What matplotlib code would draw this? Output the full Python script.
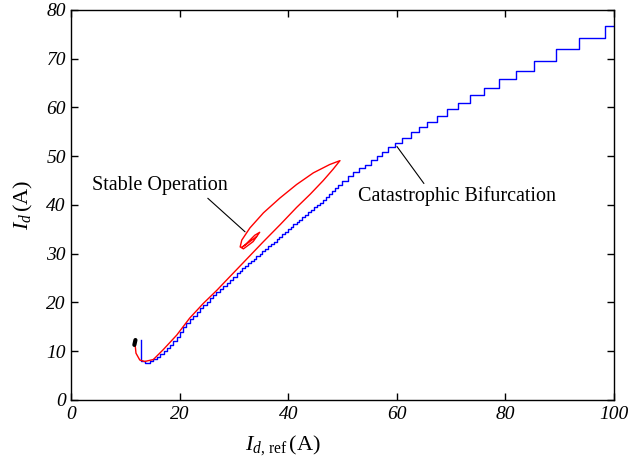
import matplotlib
matplotlib.use("Agg")
import matplotlib.pyplot as plt

plt.rcParams['mathtext.fontset'] = 'custom'
plt.rcParams['mathtext.rm'] = 'Liberation Serif'
plt.rcParams['mathtext.it'] = 'Liberation Serif:italic'
plt.rcParams['font.family'] = ['Liberation Serif', 'DejaVu Serif']

# Blue trajectory (catastrophic bifurcation), staircase
blue_x = [12.8, 12.8,
          13.5, 14.0, 14.5, 15.1, 15.7, 16.3, 17.0, 17.6, 18.2, 18.8,
          19.4, 20.0, 20.6, 21.2, 21.8, 22.4, 23.1, 23.7, 24.3, 24.9,
          25.5, 26.1, 26.7, 27.3, 28.0, 28.6, 29.2, 29.8, 30.5, 31.0,
          31.5, 32.0, 32.6, 33.1, 33.6, 34.1, 34.7, 35.2, 35.7, 36.2,
          36.8, 37.3, 37.8, 38.3, 38.8, 39.3, 39.9, 40.4, 40.9, 41.5,
          42.0, 42.5, 43.1, 43.6, 44.2, 44.7, 45.3, 45.8, 46.4, 46.9,
          47.5, 48.0, 48.6, 49.2, 49.8,
          50.9, 51.9, 53.0, 54.1, 55.2, 56.3, 57.3, 58.4, 59.6, 61.0,
          62.5, 64.0, 65.6, 67.3, 69.2, 71.3, 73.5, 76.1, 78.8, 81.9,
          85.3, 89.3, 93.6, 98.3, 100.0]
blue_y = [12.4, 7.9,
          7.5, 7.6, 7.9, 8.4, 8.9, 9.4, 10.0, 10.6, 11.3, 12.1,
          13.0, 14.0, 15.0, 15.8, 16.6, 17.3, 18.1, 18.8, 19.5, 20.2,
          20.9, 21.5, 22.1, 22.8, 23.4, 24.0, 24.7, 25.3, 26.0, 26.5,
          27.0, 27.5, 28.0, 28.5, 29.0, 29.5, 30.0, 30.5, 31.0, 31.5,
          32.0, 32.5, 33.0, 33.5, 34.0, 34.5, 35.0, 35.5, 36.0, 36.5,
          37.0, 37.5, 38.0, 38.5, 39.0, 39.5, 40.0, 40.5, 41.0, 41.6,
          42.2, 42.8, 43.4, 44.1, 44.9,
          45.9, 46.8, 47.6, 48.3, 49.2, 50.1, 50.9, 51.8, 52.8, 53.8,
          54.9, 55.9, 57.1, 58.3, 59.7, 61.0, 62.5, 64.1, 65.8, 67.5,
          69.6, 71.9, 74.2, 76.7, 76.7]

# Red trajectory (stable operation)
red_x = [11.7, 11.9, 12.6, 13.5, 15.1, 16.9, 19.4, 21.8, 24.3, 26.8, 29.2, 31.7,
         35.4, 38.5, 41.5, 44.0, 46.4, 48.2, 49.5,
         47.6, 44.6, 41.5, 38.4, 35.4, 32.9, 31.4, 31.1, 31.7, 33.5, 34.7,
         33.8, 32.0, 31.4, 32.9, 34.1]
red_y = [11.8, 9.6, 8.2, 7.9, 8.3, 10.3, 13.3, 16.8, 19.8, 22.5, 25.3, 28.2,
         32.5, 36.0, 39.5, 42.2, 45.0, 47.3, 49.1,
         48.3, 46.6, 44.2, 41.4, 38.4, 35.3, 32.8, 31.4, 31.0, 32.5, 34.4,
         33.8, 31.8, 31.3, 32.5, 33.5]

# Initial point (black)
start_x = [11.6, 11.8]
start_y = [11.3, 12.3]

x_ticks = [0, 20, 40, 60, 80, 100]
y_ticks = [0, 10, 20, 30, 40, 50, 60, 70, 80]

fig = plt.figure(figsize=(6.32, 4.65), dpi=100)
ax = fig.add_axes([0.113, 0.1398, 0.8585, 0.8387])

ax.plot(blue_x, blue_y, color='#0000ff', lw=1.0, drawstyle='steps-post')
ax.plot(red_x, red_y, color='#ff0000', lw=1.0)
ax.plot(start_x, start_y, color='black', lw=3.0, solid_capstyle='round')

ax.set_xlim(0, 100)
ax.set_ylim(0, 80)
ax.set_xticks(x_ticks)
ax.set_yticks(y_ticks)
ax.tick_params(direction='in', top=True, right=True, length=5, width=1,
               labelsize=14, pad=4)
for lab in ax.get_xticklabels() + ax.get_yticklabels():
    lab.set_fontstyle('italic')
for s in ax.spines.values():
    s.set_linewidth(1.0)

ax.set_xlabel(r'$I_{d,\,\mathrm{ref}}\,$(A)', fontsize=16)
ax.xaxis.set_label_coords(0.39, -0.085)
ax.set_ylabel(r'$I_{d}\,$(A)', fontsize=16)
ax.yaxis.set_label_coords(-0.068, 0.5)

ax.annotate('Stable Operation', xy=(32.0, 34.5), xytext=(3.8, 43.9),
            fontsize=14.5, va='center', ha='left',
            arrowprops=dict(arrowstyle='-', color='black', lw=0.8,
                            shrinkA=0, shrinkB=0, relpos=(0.83, 0.0)))
ax.annotate('Catastrophic Bifurcation', xy=(60.0, 52.0), xytext=(52.8, 41.8),
            fontsize=14.5, va='center', ha='left',
            arrowprops=dict(arrowstyle='-', color='black', lw=0.8,
                            shrinkA=0, shrinkB=0, relpos=(0.34, 1.05)))

fig.savefig('out.png', dpi=100)
